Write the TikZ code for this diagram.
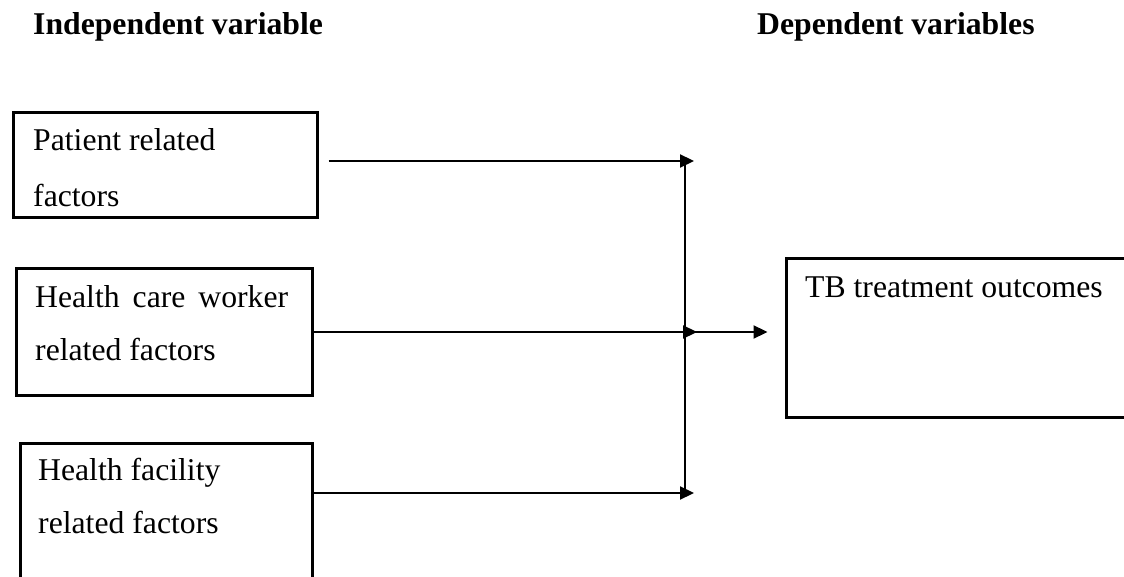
\documentclass[tikz,border=0pt]{standalone}
\usepackage{fontspec}
\setmainfont{Liberation Serif}
\usetikzlibrary{arrows.meta,calc}
\begin{document}
\begin{tikzpicture}[x=1pt,y=-1pt,
  box/.style={draw, line width=3pt, rectangle, anchor=north west, inner sep=0pt},
  txt/.style={anchor=north west, inner sep=0pt, align=left, font=\fontsize{31.7}{54}\selectfont},
  head/.style={anchor=base west, inner sep=0pt, font=\fontsize{31.7}{38}\selectfont\bfseries},
  conn/.style={line width=2.2pt},
  arr/.style={conn, -{Triangle[length=14pt,width=13pt]}}]
\clip (0,0) rectangle (1124,577);
\fill[white] (0,0) rectangle (1124,577);
% headers
\node[head] (hi) at (33,35) {Independent variable};
\node[head] (hd) at (757,35) {Dependent variables};
% boxes
\node[box, minimum width=304pt, minimum height=105pt] (p) at (11.5,111.5) {};
\node[box, minimum width=296pt, minimum height=126pt] (w) at (14.5,267.5) {};
\node[box, minimum width=292pt, minimum height=200pt] (f) at (18.5,441.5) {};
\node[box, minimum width=400pt, minimum height=158pt] (o) at (784.5,257.5) {};
% texts
\node[txt, font=\fontsize{31.7}{56}\selectfont] (pt) at (33,128.3) {Patient related\\factors};
\node[txt, font=\fontsize{31.7}{53}\selectfont] (wt) at (35,285.3) {\makebox[253pt][s]{Health care worker}\\related factors};
\node[txt, font=\fontsize{31.7}{53}\selectfont] (ft) at (38,458.3) {Health facility\\related factors};
\node[txt] (ot) at (805,276.3) {TB treatment outcomes};
% junction coordinates
\coordinate (t1) at (694,161);
\coordinate (t2) at (697,332);
\coordinate (t3) at (694,493);
\coordinate (v1) at (685,161);
\coordinate (v3) at (685,493);
\coordinate (j2) at (685,332);
% connectors
\draw[arr] ($(p.east |- t1)+(10,0)$) -- (t1);
\draw[arr] (w.east |- t2) -- (t2);
\draw[arr] (f.east |- t3) -- (t3);
\draw[conn] (v1) -- (v3);
\draw[arr] (j2) -- ($(o.west |- j2)+(-17,0)$);
\end{tikzpicture}
\end{document}
